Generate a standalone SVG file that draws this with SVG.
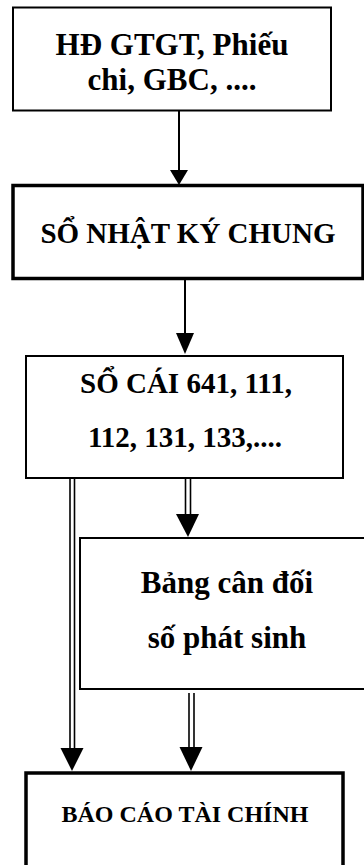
<svg xmlns="http://www.w3.org/2000/svg" width="364" height="865" viewBox="0 0 364 865">
  <defs>
    <style>
      .box { fill: #fff; stroke: #000; stroke-width: 2; }
      .thick { stroke-width: 3.5; }
      .lbl { font-family: "Liberation Serif", "Times New Roman", serif; font-weight: bold; fill: #000; text-anchor: middle; }
      .wire { stroke: #000; stroke-width: 2; fill: none; }
      .dbl { stroke: #000; stroke-width: 1.6; fill: none; }
      .head { fill: #000; stroke: none; }
    </style>
  </defs>
  <rect width="364" height="865" fill="#fff"/>

  <!-- nodes -->
  <g id="chung-tu">
    <rect class="box" x="13" y="7.5" width="318" height="103"/>
    <text class="lbl" x="172" y="55" font-size="31">HĐ GTGT, Phiếu</text>
    <text class="lbl" x="172" y="90" font-size="31">chi, GBC, ....</text>
  </g>

  <g id="nhat-ky-chung">
    <rect class="box thick" x="13" y="185.5" width="350" height="93"/>
    <text class="lbl" x="188" y="243" font-size="29">SỔ NHẬT KÝ CHUNG</text>
  </g>

  <g id="so-cai">
    <rect class="box" x="26" y="356" width="317" height="122"/>
    <text class="lbl" x="186" y="393" font-size="29">SỔ CÁI 641, 111,</text>
    <text class="lbl" x="185" y="447" font-size="29">112, 131, 133,....</text>
  </g>

  <g id="bang-can-doi">
    <rect class="box" x="80" y="538" width="300" height="151"/>
    <text class="lbl" x="227" y="593" font-size="31">Bảng cân đối</text>
    <text class="lbl" x="227" y="648" font-size="31">số phát sinh</text>
  </g>

  <g id="bao-cao-tai-chinh">
    <rect class="box thick" x="26" y="773" width="317" height="100"/>
    <text class="lbl" x="185" y="822" font-size="24">BÁO CÁO TÀI CHÍNH</text>
  </g>

  <!-- connectors -->
  <g id="connectors">
    <!-- single arrows -->
    <line class="wire" x1="179" y1="111" x2="179" y2="172"/>
    <polygon class="head" points="170,170 188,170 179,185"/>

    <line class="wire" x1="185" y1="279" x2="185" y2="336"/>
    <polygon class="head" points="176,333 194,333 185,354"/>

    <!-- double arrows -->
    <line class="dbl" x1="70" y1="478" x2="70" y2="750"/>
    <line class="dbl" x1="74.5" y1="478" x2="74.5" y2="750"/>
    <polygon class="head" points="60.5,748 83.5,748 72,771"/>

    <line class="dbl" x1="185.5" y1="478" x2="185.5" y2="516"/>
    <line class="dbl" x1="190.5" y1="478" x2="190.5" y2="516"/>
    <polygon class="head" points="176,514 199,514 188,537"/>

    <line class="dbl" x1="189" y1="693" x2="189" y2="749"/>
    <line class="dbl" x1="194" y1="693" x2="194" y2="749"/>
    <polygon class="head" points="179.5,747 202.5,747 191,771"/>
  </g>
</svg>
